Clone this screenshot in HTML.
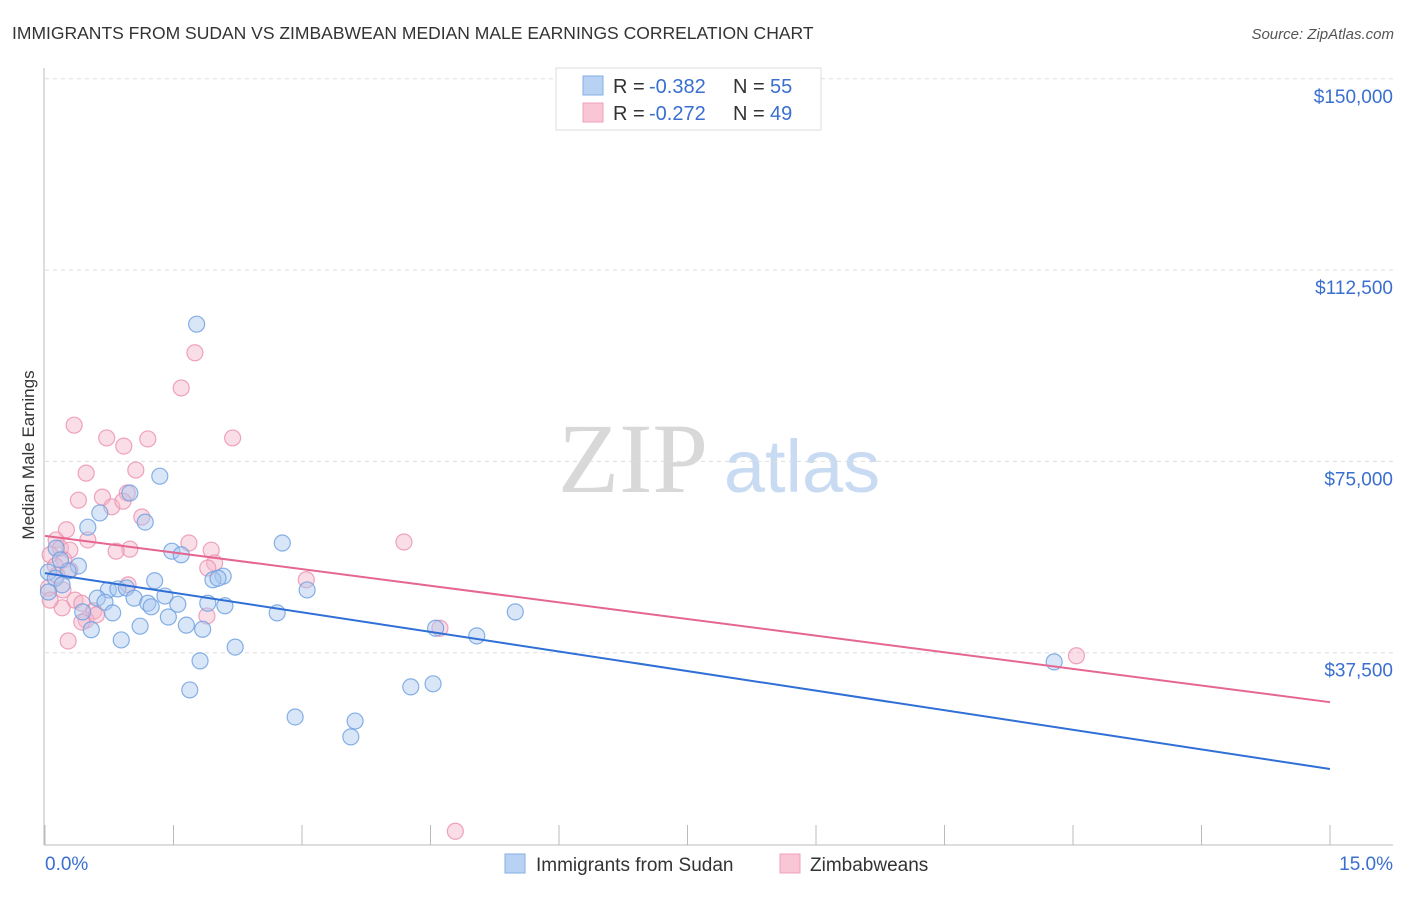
<!DOCTYPE html>
<html><head><meta charset="utf-8"><style>
body{margin:0;background:#fff;font-family:"Liberation Sans",sans-serif}
</style></head><body>
<svg width="1406" height="892" xmlns="http://www.w3.org/2000/svg" id="chart" font-family="Liberation Sans, sans-serif">
<text x="12" y="39" font-size="17.5" fill="#333">IMMIGRANTS FROM SUDAN VS ZIMBABWEAN MEDIAN MALE EARNINGS CORRELATION CHART</text>
<text x="1394" y="39" font-size="15" fill="#555" font-style="italic" text-anchor="end">Source: ZipAtlas.com</text>
<text x="633" y="492" font-size="100" fill="#d8d8d8" font-family="Liberation Serif, serif" text-anchor="middle">ZIP</text>
<text x="802" y="492" font-size="74" fill="#c9dbf2" text-anchor="middle">atlas</text>
<g id="grid"></g>
<g id="axes"></g>
<g id="marks"></g>
<text transform="translate(34,455) rotate(-90)" font-size="17" fill="#333" text-anchor="middle">Median Male Earnings</text>
<g>
<rect x="556" y="68" width="265" height="62" fill="#fff" stroke="#ddd"/>
<rect x="583" y="76" width="20" height="19" fill="#b8d2f4" stroke="#85aee6"/>
<rect x="583" y="103" width="20" height="19" fill="#f9c6d6" stroke="#f0a0ba"/>
<text x="613" y="93" font-size="20" fill="#333">R =</text>
<text x="649" y="93" font-size="20" fill="#3a6fd0">-0.382</text>
<text x="733" y="93" font-size="20" fill="#333">N =</text>
<text x="770" y="93" font-size="20" fill="#3a6fd0">55</text>
<text x="613" y="120" font-size="20" fill="#333">R =</text>
<text x="649" y="120" font-size="20" fill="#3a6fd0">-0.272</text>
<text x="733" y="120" font-size="20" fill="#333">N =</text>
<text x="770" y="120" font-size="20" fill="#3a6fd0">49</text>
</g>
<g>
<rect x="505" y="854" width="20" height="19" fill="#b8d2f4" stroke="#85aee6"/>
<text x="536" y="871" font-size="19" fill="#333">Immigrants from Sudan</text>
<rect x="780" y="854" width="20" height="19" fill="#f9c6d6" stroke="#f0a0ba"/>
<text x="810" y="871" font-size="19" fill="#333">Zimbabweans</text>
</g>
</svg>
<script>
const yTicks=[150000,112500,75000,37500];
const yTickLabels=["$150,000","$112,500","$75,000","$37,500"];
const xTickLabels=["0.0%","15.0%"];
const sudanX=[1.77,1.34,0.99,0.64,1.17,0.50,2.77,0.13,1.48,1.59,0.39,0.27,0.04,0.12,2.08,1.96,2.02,1.28,0.20,3.06,0.74,0.85,0.95,0.04,0.61,1.40,1.55,1.04,0.70,1.20,1.24,1.90,2.10,0.44,0.79,2.71,5.49,1.44,1.11,1.65,1.84,0.54,4.56,5.04,0.89,2.22,1.81,11.78,1.69,4.27,4.53,2.92,3.62,3.57,0.18];
const sudanY=[101.9,72.1,68.8,64.9,63.1,62.1,59.0,58.0,57.4,56.7,54.5,53.5,53.3,52.1,52.5,51.8,52.1,51.6,50.8,49.8,49.8,50.0,50.2,49.4,48.2,48.6,47.0,48.2,47.4,47.2,46.5,47.2,46.7,45.5,45.3,45.3,45.5,44.5,42.7,42.9,42.1,42.0,42.3,40.8,40.0,38.6,35.9,35.7,30.2,30.8,31.4,24.9,24.1,21.0,55.7];
const zimX=[0.34,0.72,1.20,2.19,0.92,1.75,1.59,0.48,1.06,0.39,0.67,0.96,0.78,0.91,1.13,0.50,0.13,0.18,0.29,1.68,1.94,0.99,0.83,4.19,0.06,0.22,1.98,1.90,0.12,0.29,3.05,0.97,0.04,0.21,0.35,0.43,0.57,0.20,1.89,0.48,0.60,0.43,4.61,0.27,12.04,4.79,0.06,0.14,0.25];
const zimY=[82.1,79.6,79.4,79.6,78.0,96.3,89.4,72.7,73.3,67.4,68.0,68.8,66.1,67.2,64.1,59.6,59.6,58.0,57.6,59.0,57.6,57.8,57.4,59.2,56.7,55.7,55.1,54.1,54.5,53.7,51.8,50.8,50.2,49.8,47.8,47.2,45.7,46.3,44.7,43.9,44.9,43.5,42.3,39.8,36.9,2.5,47.8,52.7,61.6];
const sudanTrend=[53.1,14.7];
const zimTrend=[60.4,27.8];
const NS="http://www.w3.org/2000/svg";
const sx=p=>45+p/15*1285;
const sy=k=>844-k*1000/37500*191.3;
function mk(tag,attrs,parent){const e=document.createElementNS(NS,tag);for(const k in attrs)e.setAttribute(k,attrs[k]);document.getElementById(parent).appendChild(e);return e;}
yTicks.forEach((v,i)=>{
 const g=mk('line',{x1:45,x2:1393,y1:sy(v/1000),y2:sy(v/1000),stroke:'#ddd','stroke-dasharray':'4,4'},'grid');
 
 
 const t=mk('text',{x:1393,y:sy(v/1000)+24,'font-size':19,fill:'#3a6fd0','text-anchor':'end'},'grid');
 t.textContent=yTickLabels[i];
 
 
});
let a=mk('line',{x1:44,x2:44,y1:68,y2:845,stroke:'#bbb'},'axes');


a=mk('line',{x1:44,x2:1393,y1:845,y2:845,stroke:'#bbb'},'axes');


for(let i=0;i<=10;i++){
 const t=mk('line',{x1:sx(i*1.5),x2:sx(i*1.5),y1:825,y2:845,stroke:'#bbb'},'axes');
 
 
}
[[0,'start',45],[15,'end',1393]].forEach((d,i)=>{
 const t=mk('text',{x:d[2],y:870,'font-size':19,fill:'#3a6fd0','text-anchor':d[1]},'axes');
 t.textContent=xTickLabels[i];
 
 
});
function pts(X,Y,fill,stroke,name){
 X.forEach((x,i)=>{
  const c=mk('circle',{cx:sx(x),cy:sy(Y[i]),r:8,fill:fill,'fill-opacity':0.45,stroke:stroke,'stroke-opacity':0.8,'stroke-width':1.2},'marks');
  
  
 });
}
pts(zimX,zimY,'#f5b5c9','#eb8fad','point-zimbabweans');
pts(sudanX,sudanY,'#a9c8f0','#6a9ee0','point-sudan');
let l=mk('line',{x1:sx(0),y1:sy(sudanTrend[0]),x2:sx(15),y2:sy(sudanTrend[1]),stroke:'#2f6fd6','stroke-width':2},'marks');


l=mk('line',{x1:sx(0),y1:sy(zimTrend[0]),x2:sx(15),y2:sy(zimTrend[1]),stroke:'#e5668f','stroke-width':2},'marks');


</script>
</body></html>
